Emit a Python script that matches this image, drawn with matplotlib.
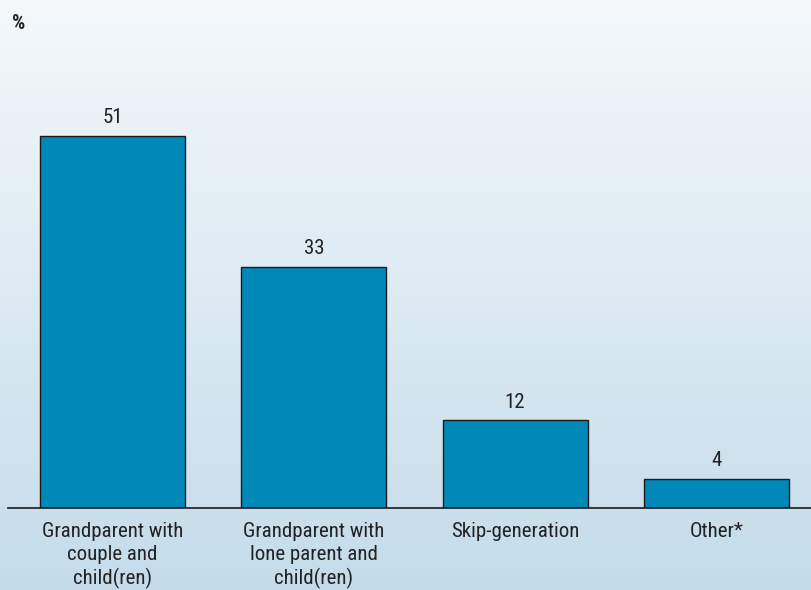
import numpy as np
import matplotlib
matplotlib.use("Agg")
import matplotlib.pyplot as plt
from matplotlib.colors import LinearSegmentedColormap

categories = ["Grandparent with\ncouple and\nchild(ren)",
              "Grandparent with\nlone parent and\nchild(ren)",
              "Skip-generation",
              "Other*"]
values = [51, 33, 12, 4]

FONT = ['Roboto Condensed', 'Liberation Sans Narrow', 'DejaVu Sans']
plt.rcParams['font.family'] = FONT
plt.rcParams['font.stretch'] = 'condensed'

W, H = 811, 590
fig = plt.figure(figsize=(W/100, H/100), dpi=100)

# gradient background
bg = fig.add_axes([0, 0, 1, 1])
cmap = LinearSegmentedColormap.from_list("bg", ["#f4f8fb", "#c4dcea"])
grad = np.linspace(0, 1, 256).reshape(-1, 1)
bg.imshow(grad, aspect='auto', cmap=cmap, extent=[0, 1, 0, 1], origin='upper')
bg.set_axis_off()

ax = fig.add_axes([8/W, (H-508)/H, (W-8)/W, 508/H])
ax.patch.set_alpha(0)
x = np.arange(len(values))
ax.bar(x, values, width=0.72, color="#0089b8", edgecolor="#1a1a1a", linewidth=1.0)
for xi, v in zip(x, values):
    ax.text(xi, v + 1.2, str(v), ha='center', va='bottom', fontsize=15,
            color="#222222", stretch='condensed')
ax.set_xlim(-0.52, 3.47)
ax.set_ylim(0, 508/7.3)
for s in ['top', 'right', 'left']:
    ax.spines[s].set_visible(False)
ax.spines['bottom'].set_color("#1a1a1a")
ax.spines['bottom'].set_linewidth(1.2)
ax.set_yticks([])
ax.set_xticks(x)
ax.set_xticklabels(categories, fontsize=15, color="#222222", linespacing=1.26,
                   stretch='condensed')
ax.tick_params(axis='x', length=0, pad=10)

fig.text(12/W, 1 - 29/H, "%", fontsize=15, fontweight='bold', color="#222222",
         ha='left', va='baseline', stretch='condensed')

fig.savefig("out.png", dpi=100)
